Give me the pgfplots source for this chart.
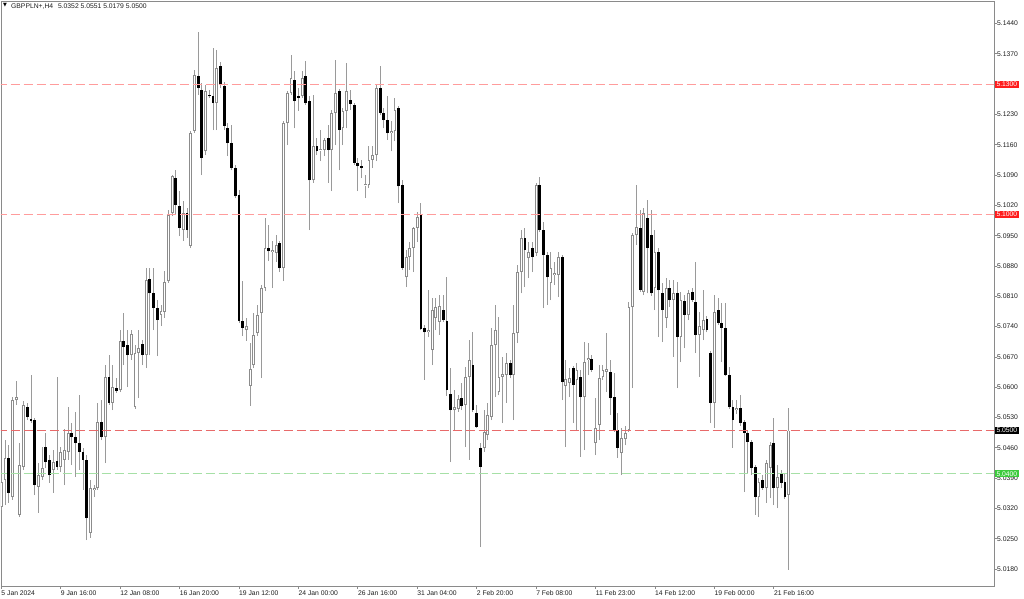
\documentclass[border=0pt]{standalone}
\usepackage{pgfplots}
\pgfplotsset{compat=1.18}
\usepackage{pgfplotstable}
\usepackage{fontspec}
\setmainfont{Liberation Sans}
\newfontfamily\dejavu{DejaVu Sans}
\definecolor{wick}{HTML}{9A9A9A}
\definecolor{bullline}{HTML}{8C8C8C}
\definecolor{lvlred}{HTML}{FF9C9C}
\definecolor{lvlredB}{HTML}{E86A6A}
\definecolor{lvlgreen}{HTML}{A6E0A6}
\definecolor{boxred}{HTML}{FF1C1C}
\definecolor{boxgreen}{HTML}{3CCB3C}
\definecolor{framegray}{HTML}{8A8A8A}
\definecolor{txt}{HTML}{1E1E1E}

\pgfplotstableread{
i O H L C
0 5.0323 5.0409 5.0316 5.0381
1 5.0386 5.0478 5.0328 5.0437
3 5.0346 5.0577 5.0340 5.0570
4 5.0570 5.0614 5.0559 5.0577
5 5.0305 5.0471 5.0300 5.0420
6 5.0416 5.0568 5.0409 5.0559
10 5.0370 5.0425 5.0310 5.0397
11 5.0393 5.0462 5.0386 5.0413
14 5.0409 5.0455 5.0356 5.0427
16 5.0416 5.0462 5.0404 5.0450
17 5.0432 5.0503 5.0374 5.0455
18 5.0450 5.0554 5.0432 5.0494
24 5.0263 5.0386 5.0252 5.0367
25 5.0363 5.0374 5.0346 5.0367
26 5.0367 5.0564 5.0363 5.0520
28 5.0485 5.0651 5.0425 5.0624
30 5.0564 5.0651 5.0547 5.0600
32 5.0593 5.0732 5.0589 5.0707
35 5.0674 5.0732 5.0663 5.0723
36 5.0554 5.0697 5.0550 5.0679
37 5.0679 5.0732 5.0575 5.0690
39 5.0674 5.0875 5.0644 5.0847
43 5.0767 5.0790 5.0741 5.0776
44 5.0774 5.0868 5.0760 5.0843
45 5.0845 5.1009 5.0841 5.0998
46 5.1002 5.1090 5.0995 5.1088
49 5.0963 5.1030 5.0938 5.1002
51 5.0926 5.1192 5.0921 5.1187
52 5.1192 5.1332 5.1187 5.1321
55 5.1145 5.1298 5.1136 5.1284
58 5.1256 5.1379 5.1194 5.1337
66 5.0732 5.0760 5.0707 5.0741
67 5.0603 5.0702 5.0557 5.0642
68 5.0651 5.0771 5.0644 5.0721
69 5.0725 5.0790 5.0718 5.0767
70 5.0771 5.0836 5.0621 5.0829
71 5.0829 5.0991 5.0822 5.0921
73 5.0912 5.0938 5.0829 5.0916
74 5.0910 5.0951 5.0889 5.0928
76 5.0875 5.1215 5.0845 5.1210
77 5.1210 5.1284 5.1159 5.1279
78 5.1279 5.1367 5.1275 5.1314
81 5.1272 5.1330 5.1268 5.1314
84 5.1078 5.1275 5.1072 5.1157
86 5.1148 5.1194 5.1122 5.1150
87 5.1148 5.1175 5.1134 5.1171
89 5.1148 5.1240 5.1053 5.1233
90 5.1233 5.1356 5.1159 5.1279
92 5.1198 5.1245 5.1159 5.1238
93 5.1238 5.1349 5.1198 5.1284
98 5.1066 5.1090 5.1037 5.1069
99 5.1067 5.1157 5.1060 5.1125
100 5.1125 5.1157 5.1106 5.1136
101 5.1136 5.1298 5.1122 5.1291
105 5.1187 5.1215 5.1145 5.1192
106 5.1192 5.1268 5.1168 5.1240
109 5.0854 5.0917 5.0831 5.0901
110 5.0901 5.0935 5.0871 5.0921
111 5.0921 5.0970 5.0866 5.0968
112 5.0968 5.1004 5.0935 5.0993
115 5.0727 5.0824 5.0716 5.0732
116 5.0686 5.0806 5.0651 5.0778
117 5.0760 5.0806 5.0732 5.0785
118 5.0751 5.0813 5.0721 5.0787
122 5.0547 5.0593 5.0501 5.0554
123 5.0550 5.0582 5.0543 5.0573
125 5.0559 5.0647 5.0462 5.0624
126 5.0624 5.0709 5.0432 5.0663
130 5.0460 5.0547 5.0450 5.0496
131 5.0490 5.0564 5.0478 5.0536
132 5.0531 5.0737 5.0524 5.0697
133 5.0697 5.0790 5.0577 5.0732
134 5.0589 5.0762 5.0582 5.0624
135 5.0624 5.0670 5.0517 5.0630
136 5.0628 5.0679 5.0564 5.0656
138 5.0628 5.0790 5.0524 5.0725
139 5.0725 5.0882 5.0702 5.0866
140 5.0866 5.0963 5.0817 5.0945
142 5.0898 5.0935 5.0852 5.0912
144 5.0910 5.1072 5.0903 5.1067
148 5.0841 5.0912 5.0801 5.0875
149 5.0859 5.0889 5.0836 5.0864
150 5.0859 5.0912 5.0808 5.0901
152 5.0603 5.0663 5.0462 5.0619
153 5.0610 5.0644 5.0577 5.0621
155 5.0617 5.0656 5.0501 5.0640
157 5.0577 5.0704 5.0455 5.0658
158 5.0663 5.0702 5.0628 5.0667
160 5.0471 5.0575 5.0443 5.0506
161 5.0513 5.0651 5.0478 5.0621
162 5.0624 5.0651 5.0617 5.0640
163 5.0636 5.0725 5.0589 5.0641
167 5.0448 5.0506 5.0397 5.0483
168 5.0480 5.0510 5.0466 5.0494
169 5.0501 5.0797 5.0497 5.0785
170 5.0785 5.0956 5.0598 5.0951
171 5.0951 5.1067 5.0928 5.0970
173 5.0820 5.1014 5.0813 5.1002
176 5.0829 5.0963 5.0778 5.0912
179 5.0760 5.0852 5.0737 5.0829
181 5.0801 5.0847 5.0670 5.0817
183 5.0716 5.0820 5.0658 5.0801
185 5.0767 5.0824 5.0755 5.0817
188 5.0721 5.0774 5.0624 5.0741
189 5.0732 5.0824 5.0709 5.0755
192 5.0564 5.0813 5.0506 5.0774
198 5.0547 5.0570 5.0538 5.0552
204 5.0346 5.0390 5.0300 5.0381
206 5.0367 5.0432 5.0333 5.0425
207 5.0413 5.0473 5.0344 5.0466
209 5.0367 5.0420 5.0321 5.0393
212 5.0352 5.0551 5.0179 5.0500
}\bull

\pgfplotstableread{
i O H L C
2 5.0437 5.0466 5.0333 5.0356
7 5.0554 5.0564 5.0524 5.0531
8 5.0527 5.0628 5.0517 5.0522
9 5.0524 5.0529 5.0351 5.0374
12 5.0462 5.0494 5.0413 5.0427
13 5.0432 5.0443 5.0379 5.0397
15 5.0430 5.0623 5.0409 5.0416
19 5.0494 5.0517 5.0420 5.0485
20 5.0485 5.0543 5.0393 5.0471
21 5.0471 5.0582 5.0409 5.0450
22 5.0450 5.0460 5.0363 5.0432
23 5.0432 5.0443 5.0247 5.0298
27 5.0520 5.0570 5.0478 5.0485
29 5.0624 5.0674 5.0559 5.0564
31 5.0598 5.0621 5.0587 5.0591
33 5.0707 5.0771 5.0651 5.0693
34 5.0697 5.0732 5.0600 5.0674
38 5.0700 5.0709 5.0651 5.0674
40 5.0850 5.0875 5.0674 5.0817
41 5.0817 5.0875 5.0732 5.0783
42 5.0783 5.0801 5.0672 5.0755
47 5.1083 5.1101 5.0998 5.1021
48 5.1018 5.1053 5.0949 5.0968
50 5.1002 5.1014 5.0945 5.0963
53 5.1318 5.1420 5.1275 5.1291
54 5.1286 5.1302 5.1090 5.1129
56 5.1275 5.1286 5.1268 5.1272
57 5.1272 5.1383 5.1194 5.1256
59 5.1342 5.1351 5.1291 5.1298
60 5.1295 5.1305 5.1194 5.1203
61 5.1198 5.1210 5.1134 5.1164
62 5.1164 5.1205 5.1101 5.1106
63 5.1106 5.1113 5.1037 5.1041
64 5.1044 5.1055 5.0748 5.0753
65 5.0753 5.0845 5.0718 5.0737
72 5.0921 5.0974 5.0891 5.0914
75 5.0933 5.0938 5.0866 5.0875
79 5.1309 5.1330 5.1198 5.1261
80 5.1272 5.1291 5.1238 5.1268
82 5.1318 5.1353 5.1252 5.1256
83 5.1261 5.1272 5.0963 5.1078
85 5.1157 5.1175 5.1136 5.1145
88 5.1175 5.1205 5.1072 5.1148
91 5.1284 5.1288 5.1101 5.1194
94 5.1263 5.1286 5.1240 5.1254
95 5.1252 5.1256 5.1113 5.1118
96 5.1118 5.1129 5.1053 5.1111
97 5.1111 5.1125 5.1083 5.1106
102 5.1291 5.1342 5.1228 5.1233
103 5.1233 5.1245 5.1198 5.1217
104 5.1217 5.1272 5.1171 5.1187
107 5.1245 5.1249 5.1025 5.1064
108 5.1067 5.1078 5.0871 5.0875
113 5.0998 5.1025 5.0732 5.0734
114 5.0737 5.0744 5.0617 5.0727
119 5.0778 5.0813 5.0751 5.0755
120 5.0753 5.0854 5.0580 5.0593
121 5.0584 5.0644 5.0427 5.0547
124 5.0575 5.0610 5.0547 5.0557
127 5.0651 5.0727 5.0543 5.0547
128 5.0540 5.0559 5.0506 5.0508
129 5.0460 5.0471 5.0231 5.0416
137 5.0656 5.0663 5.0621 5.0628
141 5.0945 5.0968 5.0831 5.0917
143 5.0921 5.0935 5.0866 5.0901
145 5.1067 5.1085 5.0958 5.0963
146 5.0963 5.0981 5.0783 5.0905
147 5.0905 5.0912 5.0790 5.0854
151 5.0901 5.0905 5.0570 5.0612
154 5.0644 5.0649 5.0517 5.0605
156 5.0624 5.0640 5.0439 5.0577
159 5.0665 5.0674 5.0635 5.0640
164 5.0635 5.0663 5.0536 5.0575
165 5.0577 5.0633 5.0497 5.0501
166 5.0501 5.0540 5.0437 5.0460
172 5.0968 5.1009 5.0820 5.0824
174 5.0991 5.1032 5.0817 5.0921
175 5.0951 5.1009 5.0811 5.0817
177 5.0912 5.0921 5.0716 5.0824
178 5.0817 5.0841 5.0704 5.0778
180 5.0829 5.0847 5.0785 5.0801
182 5.0817 5.0843 5.0598 5.0716
184 5.0799 5.0813 5.0690 5.0767
186 5.0820 5.0829 5.0797 5.0801
187 5.0797 5.0889 5.0679 5.0721
190 5.0757 5.0764 5.0727 5.0732
191 5.0679 5.0684 5.0517 5.0564
193 5.0778 5.0806 5.0744 5.0748
194 5.0748 5.0794 5.0658 5.0737
195 5.0737 5.0794 5.0626 5.0628
196 5.0628 5.0647 5.0550 5.0554
197 5.0554 5.0570 5.0460 5.0524
199 5.0552 5.0582 5.0510 5.0517
200 5.0520 5.0524 5.0358 5.0494
201 5.0494 5.0501 5.0402 5.0473
202 5.0473 5.0478 5.0397 5.0413
203 5.0416 5.0420 5.0305 5.0346
205 5.0386 5.0397 5.0363 5.0367
208 5.0471 5.0529 5.0328 5.0367
210 5.0402 5.0409 5.0367 5.0379
211 5.0381 5.0402 5.0342 5.0346
}\bear

\tikzset{lbl/.style={anchor=west, xshift=1bp, inner xsep=1.3bp, inner ysep=0.9bp,
  text height=5bp, text depth=0.2bp, text=white, font=\fontsize{6.8}{8}\selectfont}}

\begin{document}
\begin{tikzpicture}
\path[use as bounding box, fill=white] (0,0) rectangle (1024bp,599bp);
\begin{axis}[
  at={(1bp,13bp)}, anchor=south west,
  scale only axis, width=993bp, height=585bp,
  xmin=-0.08, xmax=267.28, ymin=5.0141, ymax=5.1492,
  axis line style={draw=framegray, line width=0.8bp},
  xtick={0,16,32,48,64,80,96,112,128,144,160,176,192,208},
  xticklabels={5 Jan 2024,9 Jan 16:00,12 Jan 08:00,16 Jan 20:00,19 Jan 12:00,24 Jan 00:00,26 Jan 16:00,31 Jan 04:00,2 Feb 20:00,7 Feb 08:00,11 Feb 23:00,14 Feb 12:00,19 Feb 00:00,21 Feb 16:00},
  ytick={5.018,5.025,5.032,5.039,5.046,5.053,5.060,5.067,5.074,5.081,5.088,5.095,5.102,5.109,5.116,5.123,5.130,5.137,5.144},
  scaled y ticks=false,
  ytick pos=right, yticklabel pos=right, xtick pos=bottom,
  tick align=outside, major tick length=3bp,
  tick style={draw=framegray, line width=0.8bp},
  tick label style={font=\fontsize{6.8}{8}\selectfont, text=txt},
  yticklabel style={/pgf/number format/fixed, /pgf/number format/fixed zerofill,
    /pgf/number format/precision=4, /pgf/number format/assume math mode=true,
    anchor=west, inner sep=0pt},
  xticklabel style={anchor=north west, inner sep=0pt, yshift=-1.5bp},
]
% wicks
\addplot[draw=none, mark=none, forget plot, error bars/.cd, y dir=plus, y explicit, error mark=none,
  error bar style={draw=wick, line width=1bp}]
  table[x=i, y=L, y error plus expr=\thisrow{H}-\thisrow{L}] {\bull};
\addplot[draw=none, mark=none, forget plot, error bars/.cd, y dir=plus, y explicit, error mark=none,
  error bar style={draw=wick, line width=1bp}]
  table[x=i, y=L, y error plus expr=\thisrow{H}-\thisrow{L}] {\bear};
% bear bodies
\addplot[draw=none, mark=none, forget plot, error bars/.cd, y dir=plus, y explicit, error mark=none,
  error bar style={draw=black, line width=2.8bp}]
  table[x=i, y=C, y error plus expr=\thisrow{O}-\thisrow{C}] {\bear};
% bull bodies
\addplot[draw=none, mark=none, forget plot, error bars/.cd, y dir=plus, y explicit, error mark=none,
  error bar style={draw=bullline, line width=2.8bp}]
  table[x=i, y=O, y error plus expr=\thisrow{C}-\thisrow{O}] {\bull};
\addplot[draw=none, mark=none, forget plot, error bars/.cd, y dir=plus, y explicit, error mark=none,
  error bar style={draw=white, line width=1bp, shorten <=0.9bp, shorten >=0.9bp}]
  table[x=i, y=O, y error plus expr=\thisrow{C}-\thisrow{O}] {\bull};
% level lines
\addplot[lvlred, line width=1bp, dash pattern=on 9bp off 4bp, forget plot] coordinates {(-1,5.13) (268,5.13)};
\addplot[lvlred, line width=1bp, dash pattern=on 9bp off 4bp, forget plot] coordinates {(-1,5.10) (268,5.10)};
\addplot[lvlredB, line width=1bp, dash pattern=on 9bp off 4bp, forget plot] coordinates {(-1,5.05) (268,5.05)};
\addplot[lvlgreen, line width=1bp, dash pattern=on 9bp off 4bp, forget plot] coordinates {(-1,5.04) (268,5.04)};
\coordinate (pA) at (axis cs:267.28,5.13);
\coordinate (pB) at (axis cs:267.28,5.10);
\coordinate (pC) at (axis cs:267.28,5.05);
\coordinate (pD) at (axis cs:267.28,5.04);
\end{axis}
\node[lbl, fill=boxred] at (pA) {5.1300};
\node[lbl, fill=boxred] at (pB) {5.1000};
\node[lbl, fill=black] at (pC) {5.0500};
\node[lbl, fill=boxgreen] at (pD) {5.0400};
\node[anchor=center, inner sep=0pt, font=\dejavu\fontsize{5}{6}\selectfont] at (5bp,593.5bp) {▼};
\node[anchor=base west, inner sep=0pt, font=\fontsize{6.8}{8}\selectfont, text=txt] at (11bp,590.5bp) {GBPPLN+,H4\hspace{3bp} 5.0352 5.0551 5.0179 5.0500};
\end{tikzpicture}
\end{document}
